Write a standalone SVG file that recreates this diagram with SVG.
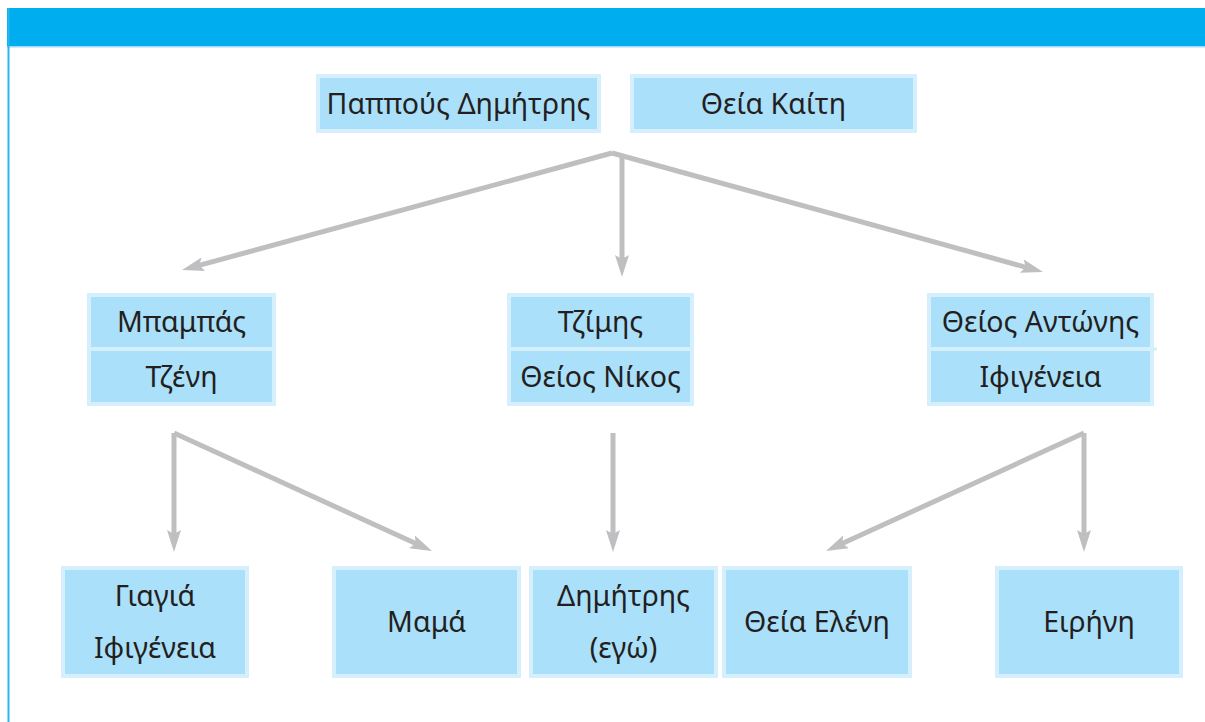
<svg xmlns="http://www.w3.org/2000/svg" width="1205" height="722" viewBox="0 0 1205 722">
<style>
.outer{fill:#d5effc}
.inner{fill:#abe0fa}
.t{font-family:"Noto Sans","Open Sans","DejaVu Sans",sans-serif;font-size:28.5px;fill:#231f20;text-anchor:middle}
.c{stroke:#bfbfc1;stroke-width:5;fill:none;marker-end:url(#ah)}
</style>
<defs>
<marker id="ah" markerUnits="userSpaceOnUse" viewBox="0 0 22 14" refX="12" refY="7" markerWidth="22" markerHeight="14" orient="auto">
<path d="M0,0 L22,7 L0,14 L4,7 Z" fill="#bfbfc1"/>
</marker>
</defs>
<rect x="0" y="0" width="1205" height="722" fill="#ffffff"/>
<rect x="7" y="8" width="1198" height="38" fill="#00aeef"/>
<rect x="7" y="46" width="1198" height="1.5" fill="#9fdcf7"/>
<rect x="7.5" y="8" width="2" height="714" fill="#29b5ef"/>

<g id="connectors">
<path class="c" d="M612,153 L191.7,267.4"/>
<path class="c" d="M622,156 L622,267"/>
<path class="c" d="M612,153 L1033.4,269.3"/>
<path class="c" d="M174,433 L174,542"/>
<path class="c" d="M174,433 L422.9,546.8"/>
<path class="c" d="M613,433 L613,542"/>
<path class="c" d="M1084,433 L835.1,546.8"/>
<path class="c" d="M1084,433 L1084,542"/>
</g>

<g id="pappous-dimitris">
<rect class="outer" x="316" y="74" width="285" height="59"/>
<rect class="inner" x="320" y="78" width="277" height="51"/>
<text class="t" x="458.5" y="114">Παππούς Δημήτρης</text>
</g>
<g id="theia-kaiti">
<rect class="outer" x="630" y="74" width="287" height="59"/>
<rect class="inner" x="634" y="78" width="279" height="51"/>
<text class="t" x="773.5" y="114">Θεία Καίτη</text>
</g>

<g id="mpampas-tzeni">
<rect class="outer" x="87" y="293" width="189" height="113"/>
<rect class="inner" x="91" y="297" width="181" height="50"/>
<rect class="inner" x="91" y="351" width="181" height="51"/>
<text class="t" x="181.5" y="332">Μπαμπάς</text>
<text class="t" x="181.5" y="387">Τζένη</text>
</g>
<g id="tzimis-nikos">
<rect class="outer" x="507" y="293" width="187" height="113"/>
<rect class="inner" x="511" y="297" width="179" height="50"/>
<rect class="inner" x="511" y="351" width="179" height="51"/>
<text class="t" x="600.5" y="332">Τζίμης</text>
<text class="t" x="600.5" y="387">Θείος Νίκος</text>
</g>
<g id="antonis-ifigeneia">
<rect class="outer" x="927" y="293" width="227" height="113"/>
<rect class="inner" x="931" y="297" width="219" height="50"/>
<rect class="inner" x="931" y="351" width="219" height="51"/>
<rect class="outer" x="1150" y="347.5" width="7" height="3"/>
<text class="t" x="1040.5" y="332">Θείος Αντώνης</text>
<text class="t" x="1040.5" y="387">Ιφιγένεια</text>
</g>

<g id="giagia">
<rect class="outer" x="61" y="566" width="188" height="112"/>
<rect class="inner" x="65" y="570" width="180" height="104"/>
<text class="t" x="155" y="606">Γιαγιά</text>
<text class="t" x="155" y="658">Ιφιγένεια</text>
</g>
<g id="mama">
<rect class="outer" x="332" y="566" width="189" height="112"/>
<rect class="inner" x="336" y="570" width="181" height="104"/>
<text class="t" x="426.5" y="632">Μαμά</text>
</g>
<g id="dimitris">
<rect class="outer" x="529" y="566" width="189" height="112"/>
<rect class="inner" x="533" y="570" width="181" height="104"/>
<text class="t" x="623.5" y="606">Δημήτρης</text>
<text class="t" x="623.5" y="658">(εγώ)</text>
</g>
<g id="theia-eleni">
<rect class="outer" x="722" y="566" width="190" height="112"/>
<rect class="inner" x="726" y="570" width="182" height="104"/>
<text class="t" x="817" y="632">Θεία Ελένη</text>
</g>
<g id="eirini">
<rect class="outer" x="995" y="566" width="188" height="112"/>
<rect class="inner" x="999" y="570" width="180" height="104"/>
<text class="t" x="1089" y="632">Ειρήνη</text>
</g>
</svg>
